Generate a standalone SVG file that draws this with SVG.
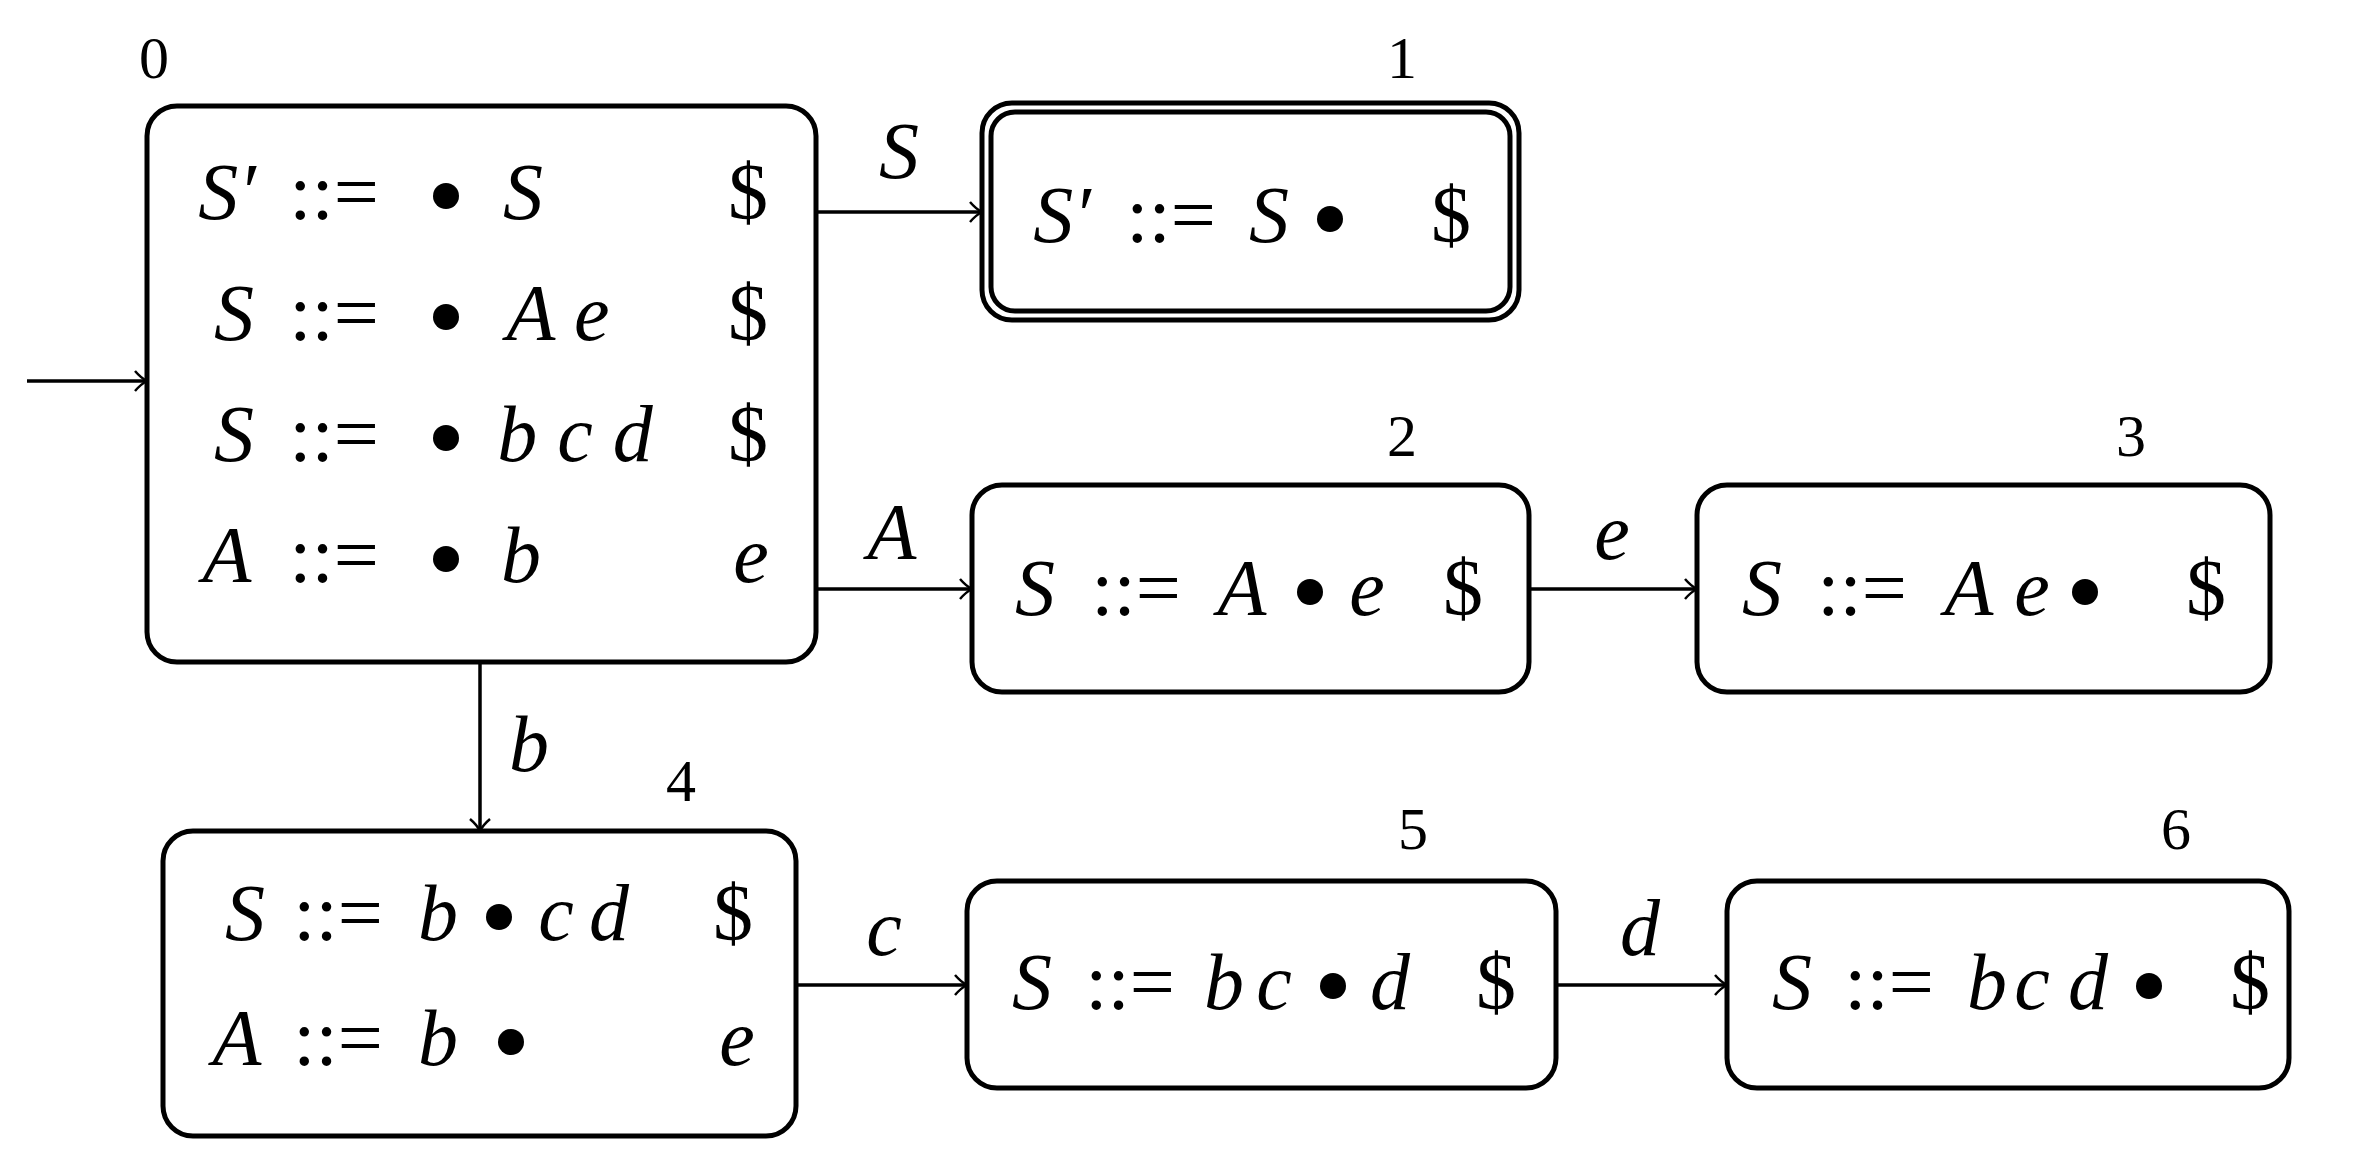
<svg xmlns="http://www.w3.org/2000/svg" width="2370" height="1172" viewBox="0 0 2370 1172">
<style>
text{font-family:"Liberation Serif","DejaVu Serif",serif;font-size:80px;text-anchor:middle;fill:#000}
.i{font-style:italic}
.n{font-size:60px}
.box{fill:#fff;stroke:#000;stroke-width:5}
.e{fill:none;stroke:#000;stroke-width:3.5;marker-end:url(#ah)}
</style>
<defs>
<marker id="ah" viewBox="0 0 14 22" refX="13" refY="11" markerWidth="14" markerHeight="22" markerUnits="userSpaceOnUse" orient="auto"><path d="M1,1 Q7,8 13,11 Q7,14 1,21" fill="none" stroke="#000" stroke-width="2.5"/></marker>
</defs>
<g id="connectors">
<path class="e" d="M27,381 H147"/>
<path class="e" d="M816,212 H982"/>
<path class="e" d="M816,589 H972"/>
<path class="e" d="M1529,589 H1697"/>
<path class="e" d="M480,662 V831"/>
<path class="e" d="M796,985 H967"/>
<path class="e" d="M1556,985 H1727"/>
<text class="i" x="899" y="178">S</text>
<text class="i" x="892" y="559">A</text>
<text class="i" x="1612" y="559">e</text>
<text class="i" x="529" y="771">b</text>
<text class="i" x="884" y="955">c</text>
<text class="i" x="1640" y="955">d</text>
</g>
<g id="state0">
<rect class="box" x="147" y="106" width="669" height="556" rx="30"/>
<text class="n" x="154" y="78">0</text>
<text class="i" x="227" y="219">S′</text><text x="334" y="219">::=</text><circle cx="446" cy="196" r="13"/><text class="i" x="523" y="219">S</text><text x="748" y="219">$</text>
<text class="i" x="234" y="340">S</text><text x="334" y="340">::=</text><circle cx="446" cy="317" r="13"/><text class="i" x="558" y="340">A e</text><text x="748" y="340">$</text>
<text class="i" x="234" y="461">S</text><text x="334" y="461">::=</text><circle cx="446" cy="438" r="13"/><text class="i" x="575" y="461">b c d</text><text x="748" y="461">$</text>
<text class="i" x="227" y="582">A</text><text x="334" y="582">::=</text><circle cx="446" cy="559" r="13"/><text class="i" x="521" y="582">b</text><text class="i" x="751" y="582">e</text>
</g>
<g id="state1">
<rect class="box" x="982" y="103" width="537" height="217" rx="30"/>
<rect class="box" x="991" y="112" width="519" height="199" rx="24"/>
<text class="n" x="1402" y="78">1</text>
<text class="i" x="1062" y="242">S′</text><text x="1171" y="242">::=</text><text class="i" x="1269" y="242">S</text><circle cx="1330" cy="219" r="13"/><text x="1451" y="242">$</text>
</g>
<g id="state2">
<rect class="box" x="972" y="485" width="557" height="207" rx="30"/>
<text class="n" x="1402" y="456">2</text>
<text class="i" x="1035" y="615">S</text><text x="1136" y="615">::=</text><text class="i" x="1242" y="615">A</text><circle cx="1310" cy="592" r="13"/><text class="i" x="1367" y="615">e</text><text x="1463" y="615">$</text>
</g>
<g id="state3">
<rect class="box" x="1697" y="485" width="573" height="207" rx="30"/>
<text class="n" x="2131" y="456">3</text>
<text class="i" x="1762" y="615">S</text><text x="1862" y="615">::=</text><text class="i" x="1969" y="615">A</text><text class="i" x="2032" y="615">e</text><circle cx="2085" cy="592" r="13"/><text x="2206" y="615">$</text>
</g>
<g id="state4">
<rect class="box" x="163" y="831" width="633" height="305" rx="30"/>
<text class="n" x="681" y="801">4</text>
<text class="i" x="245" y="940">S</text><text x="338" y="940">::=</text><text class="i" x="438" y="940">b</text><circle cx="499" cy="917" r="13"/><text class="i" x="556" y="940">c</text><text class="i" x="609" y="940">d</text><text x="733" y="940">$</text>
<text class="i" x="237" y="1065">A</text><text x="338" y="1065">::=</text><text class="i" x="438" y="1065">b</text><circle cx="511" cy="1042" r="13"/><text class="i" x="737" y="1065">e</text>
</g>
<g id="state5">
<rect class="box" x="967" y="881" width="589" height="207" rx="30"/>
<text class="n" x="1413" y="849">5</text>
<text class="i" x="1032" y="1009">S</text><text x="1130" y="1009">::=</text><text class="i" x="1224" y="1009">b</text><text class="i" x="1274" y="1009">c</text><circle cx="1333" cy="986" r="13"/><text class="i" x="1390" y="1009">d</text><text x="1496" y="1009">$</text>
</g>
<g id="state6">
<rect class="box" x="1727" y="881" width="562" height="207" rx="30"/>
<text class="n" x="2176" y="849">6</text>
<text class="i" x="1792" y="1009">S</text><text x="1889" y="1009">::=</text><text class="i" x="1987" y="1009">b</text><text class="i" x="2032" y="1009">c</text><text class="i" x="2088" y="1009">d</text><circle cx="2149" cy="986" r="13"/><text x="2250" y="1009">$</text>
</g>
</svg>
